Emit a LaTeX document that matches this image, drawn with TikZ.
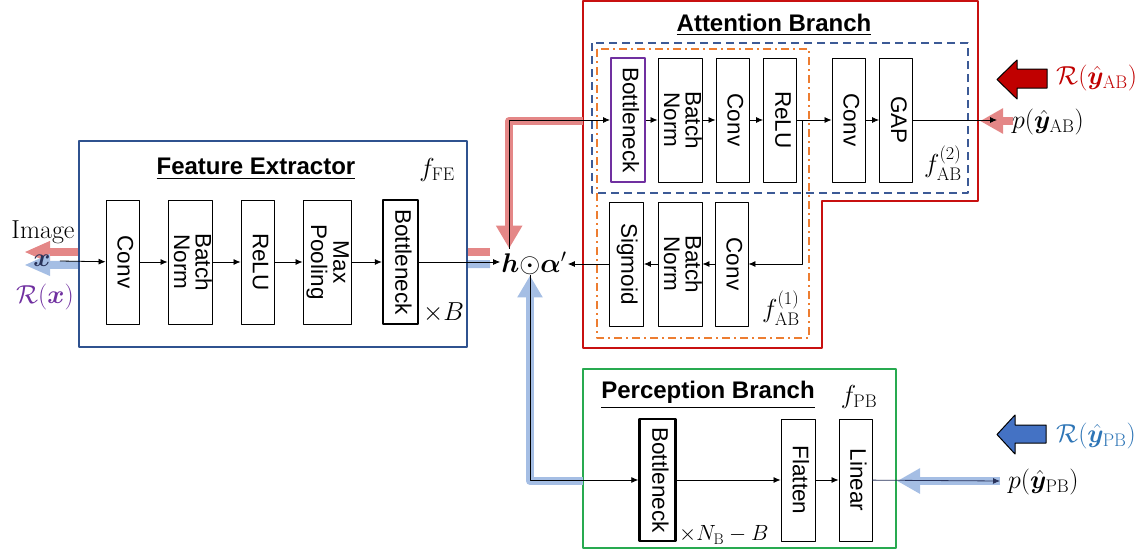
\RequirePackage{fix-cm}
\documentclass[tikz,border=0pt]{standalone}
\usepackage{amsmath,bm,graphicx}
\usepackage{fontspec}
\setsansfont{Liberation Sans}
\usetikzlibrary{arrows.meta}
\definecolor{feblue}{RGB}{47,82,143}
\definecolor{abred}{RGB}{200,16,16}
\definecolor{dashblue}{RGB}{60,90,150}
\definecolor{dashorange}{RGB}{237,125,49}
\definecolor{pbgreen}{RGB}{40,170,80}
\definecolor{bnpurple}{RGB}{112,48,160}
\definecolor{gradred}{RGB}{228,135,135}
\definecolor{gradblue}{RGB}{165,190,228}
\definecolor{bigred}{RGB}{192,0,0}
\definecolor{bigblue}{RGB}{68,114,196}
\definecolor{rpbblue}{RGB}{46,117,182}
\definecolor{xnavy}{RGB}{40,50,90}
\newcommand{\vtext}[1]{\rotatebox{-90}{\begin{tabular}{@{}c@{}}#1\end{tabular}}}
\begin{document}
\begin{tikzpicture}[x=1pt,y=-1pt,line join=round,>={Latex[length=7pt,width=6pt]},
layer/.style={draw,fill=white,line width=.9pt,minimum height=124pt,inner sep=0pt,font=\fontsize{22.5}{20}\selectfont\sffamily},
bneck/.style={layer,line width=2.4pt},
flow/.style={->,line width=.8pt},
band/.style={line width=8pt},
title/.style={font=\fontsize{24}{26}\selectfont\sffamily\bfseries},
lab/.style={font=\fontsize{26}{28}\selectfont,inner sep=1pt}]
\useasboundingbox (0,0) rectangle (1145,554);
% backward signals
\path (490,252) coordinate (hred) (24,252) coordinate (imgred)
(490,264) coordinate (hblue) (24,265) coordinate (imgblue)
(583,121) coordinate (abL) (583,481) coordinate (pbL)
(1013,121) coordinate (abg) (980,121) coordinate (abR)
(1000,481) coordinate (pbg) (897,481) coordinate (pbR)
(997,120) coordinate (about);
\draw[band,gradred,-{Triangle[length=26pt,width=20pt]}] (hred)--(imgred);
\draw[band,gradblue,-{Triangle[length=26pt,width=20pt]}] (hblue)--(imgblue);
\draw[band,gradred,-{Triangle[length=23pt,width=24pt]}] (abg)--(abR);
\draw[band,gradblue,-{Triangle[length=23pt,width=24pt]}] (pbg)--(pbR);
% frames
\draw[feblue,line width=1.5pt,fill=white] (79,141) rectangle (467,347);
\draw[abred,line width=1.8pt] (583,1)--(978,1)--(978,201)--(822,201)--(822,348)--(583,348)--cycle;
\draw[dashblue,line width=1.5pt,dash pattern=on 8pt off 5pt] (592,43) rectangle (968,193);
\draw[dashorange,line width=1.5pt,dash pattern=on 8pt off 4pt on 2pt off 4pt] (597,49) rectangle (809,338);
\draw[pbgreen,line width=1.5pt] (583,369) rectangle (896,548);
\node[title] (fetitle) at (256,169) {\underline{Feature Extractor}};
\node[title] (abtitle) at (774,25) {\underline{Attention Branch}};
\node[title] (pbtitle) at (708,395) {\underline{Perception Branch}};
\node[lab] (ffe) at (437,170) {$f_{\mathrm{FE}}$};
\node[lab] (fab1) at (781,308) {$f_{\mathrm{AB}}^{(1)}$};
\node[lab] (fab2) at (943,163) {$f_{\mathrm{AB}}^{(2)}$};
\node[lab] (fpb) at (859,397) {$f_{\mathrm{PB}}$};
% feature extractor
\node[layer,minimum width=33pt] (fe1) at (122.5,262) {\vtext{Conv}};
\node[layer,minimum width=44pt] (fe2) at (190,262) {\vtext{Batch\\Norm}};
\node[layer,minimum width=33pt] (fe3) at (257.5,262) {\vtext{ReLU}};
\node[layer,minimum width=48pt] (fe4) at (327,262) {\vtext{Max\\Pooling}};
\node[bneck,minimum width=35pt] (fe5) at (400.5,262) {\vtext{Bottleneck}};
\node[lab,anchor=west] (feb) at (422,313) {$\times B$};
\node[lab] (img) at (43,232) {Image};
\node[lab,text=xnavy] (xin) at (42,261) {$\bm{x}$};
\node[lab,text=bnpurple] (rx) at (45,297) {$\mathcal{R}(\bm{x})$};
\draw[flow] ([xshift=8pt]xin.east)--(fe1);
\draw[flow] (fe1)--(fe2);
\draw[flow] (fe2)--(fe3);
\draw[flow] (fe3)--(fe4);
\draw[flow] (fe4)--(fe5);
\node[lab,font=\fontsize{27}{29}\selectfont] (had) at (534,263) {$\bm{h}{\odot}\bm{\alpha}'$};
\draw[flow] (fe5.east)--(fe5.east -| had.west);
% attention branch
\node[layer,draw=bnpurple,line width=2pt,minimum width=34pt] (ab1) at (628,120) {\vtext{Bottleneck}};
\node[layer,minimum width=44pt] (ab2) at (680,120) {\vtext{Batch\\Norm}};
\node[layer,minimum width=33pt] (ab3) at (732.5,120) {\vtext{Conv}};
\node[layer,minimum width=33pt] (ab4) at (780,120) {\vtext{ReLU}};
\node[layer,minimum width=33pt] (ab5) at (848.5,120) {\vtext{Conv}};
\node[layer,minimum width=33pt] (ab6) at (896,120) {\vtext{GAP}};
\node[layer,minimum width=33pt] (ac1) at (731.5,264) {\vtext{Conv}};
\node[layer,minimum width=44pt] (ac2) at (680,264) {\vtext{Batch\\Norm}};
\node[layer,minimum width=34pt] (ac3) at (626.5,264) {\vtext{Sigmoid}};
\coordinate (hin) at ([xshift=9pt,yshift=2pt]had.north west);
\coordinate (hout) at ([xshift=-4pt]had.south);
\draw[band,gradred,-{Triangle[length=23pt,width=25pt]}] (abL)-|(hin);
\draw[band,gradblue,-{Triangle[length=22pt,width=24pt]}] (pbL)-|(hout);
\draw[flow] (hin)|-(ab1);
\draw[flow] (ab1)--(ab2);
\draw[flow] (ab2)--(ab3);
\draw[flow] (ab3)--(ab4);
\draw[flow] (ab4)--(ab5);
\draw[flow] (ab5)--(ab6);
\draw[flow] (ab6)--(about);
\draw[flow] ([xshift=5.5pt]ab4.east)|-(ac1);
\draw[flow] (ac1)--(ac2);
\draw[flow] (ac2)--(ac3);
\draw[flow] (ac3.west)--(ac3.west -| had.east);
% perception branch
\node[bneck,minimum width=36pt,minimum height=122pt] (pb1) at (657.5,480) {\vtext{Bottleneck}};
\node[layer,minimum width=34pt,minimum height=122pt] (pb2) at (798,480) {\vtext{Flatten}};
\node[layer,minimum width=33pt,minimum height=122pt] (pb3) at (855.5,480) {\vtext{Linear}};
\node[lab,anchor=west,font=\fontsize{22}{24}\selectfont] (pbn) at (678,535) {$\times N_{\mathrm{B}}-B$};
\draw[flow] (hout)|-(pb1);
\draw[flow] (pb1)--(pb2);
\draw[flow] (pb2)--(pb3);
\draw[flow,xnavy] (pb3)--(pbg);
% outputs
\draw[line width=1pt,fill=bigred] (1047,69)--(1017,69)--(1017,60)--(997,79.5)--(1017,99)--(1017,88)--(1047,88)--cycle;
\draw[line width=1pt,fill=bigblue] (1046,425)--(1015,425)--(1015,415)--(997,434.5)--(1015,454)--(1015,443)--(1046,443)--cycle;
\node[lab,text=bigred,anchor=west] (rab) at (1055,78) {$\mathcal{R}(\hat{\bm{y}}_{\mathrm{AB}})$};
\node[lab,anchor=west] (pab) at (1011,122) {$p(\hat{\bm{y}}_{\mathrm{AB}})$};
\node[lab,text=rpbblue,anchor=west] (rpb) at (1055,436) {$\mathcal{R}(\hat{\bm{y}}_{\mathrm{PB}})$};
\node[lab,anchor=west] (ppb) at (1007,482) {$p(\hat{\bm{y}}_{\mathrm{PB}})$};
\end{tikzpicture}
\end{document}
